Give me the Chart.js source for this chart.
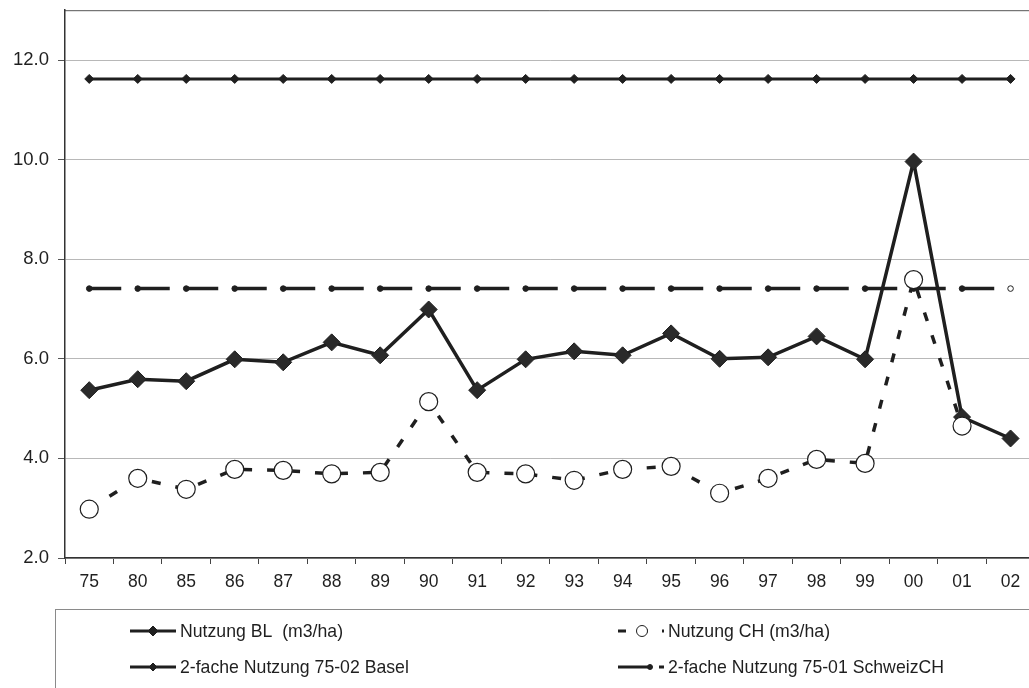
<!DOCTYPE html>
<html>
<head>
<meta charset="utf-8">
<script src="https://cdn.jsdelivr.net/npm/chart.js"></script>
<style>
  body { margin: 0; overflow: hidden; background: #fff; }
  #wrap { width: 1029px; height: 688px; overflow: hidden; }
  canvas { display: block; }
</style>
</head>
<body>
<div id="wrap"><canvas id="line-chart" width="1045" height="688"></canvas></div>
<script>
const years = ['75','80','85','86','87','88','89','90','91','92','93','94','95','96','97','98','99','00','01','02'];

const nutzungBL = [5.37, 5.59, 5.55, 5.99, 5.93, 6.33, 6.07, 6.99, 5.37, 5.99, 6.15, 6.07, 6.51, 6.00, 6.03, 6.45, 5.99, 9.96, 4.83, 4.40];
const nutzungCH = [2.98, 3.60, 3.38, 3.78, 3.76, 3.69, 3.72, 5.14, 3.72, 3.69, 3.56, 3.78, 3.84, 3.30, 3.60, 3.98, 3.90, 7.59, 4.65, null];
const doppeltBasel = [11.62, 11.62, 11.62, 11.62, 11.62, 11.62, 11.62, 11.62, 11.62, 11.62, 11.62, 11.62, 11.62, 11.62, 11.62, 11.62, 11.62, 11.62, 11.62, 11.62];
const doppeltCH = [7.41, 7.41, 7.41, 7.41, 7.41, 7.41, 7.41, 7.41, 7.41, 7.41, 7.41, 7.41, 7.41, 7.41, 7.41, 7.41, 7.41, 7.41, 7.41, 7.41];

const labels = ['Nutzung BL  (m3/ha)', 'Nutzung CH (m3/ha)', '2-fache Nutzung 75-02 Basel', '2-fache Nutzung 75-01 SchweizCH'];

const ink = '#1f1f1f';
const font = "'Liberation Sans', Arial, sans-serif";

const frame = {
  id: 'frame',
  beforeDraw(chart) {
    const a = chart.chartArea, ctx = chart.ctx;
    ctx.save();
    ctx.strokeStyle = '#555';
    ctx.lineWidth = 1;
    ctx.beginPath();
    ctx.moveTo(a.left, a.top + 0.5);
    ctx.lineTo(a.right, a.top + 0.5);
    ctx.lineTo(a.right, a.bottom);
    ctx.stroke();
    ctx.restore();
  }
};

function marker(ctx, style, x, y, r, fill) {
  ctx.beginPath();
  if (style === 'circle') {
    ctx.arc(x, y, r, 0, Math.PI * 2);
  } else {
    ctx.moveTo(x - r, y); ctx.lineTo(x, y - r); ctx.lineTo(x + r, y); ctx.lineTo(x, y + r);
    ctx.closePath();
  }
  ctx.setLineDash([]);
  ctx.fillStyle = fill;
  ctx.fill();
  ctx.lineWidth = 1;
  ctx.strokeStyle = ink;
  ctx.stroke();
}

const legendBox = {
  id: 'legendBox',
  afterDraw(chart) {
    const ctx = chart.ctx;
    const spots = [[130, 631], [618, 631], [130, 667], [618, 667]];
    ctx.save();
    ctx.strokeStyle = '#8a8a8a';
    ctx.lineWidth = 1;
    ctx.strokeRect(55.5, 609.5, 1100, 200);
    chart.data.datasets.forEach((ds, i) => {
      const [x, y] = spots[i];
      ctx.beginPath();
      ctx.setLineDash(i === 1 ? [8, 14] : i === 3 ? [32, 9, 5, 20] : []);
      ctx.strokeStyle = ink;
      ctx.lineWidth = 3;
      ctx.moveTo(x, y);
      ctx.lineTo(x + 46, y);
      ctx.stroke();
      if (i === 0) marker(ctx, 'rectRot', x + 23, y, 5, ink);
      if (i === 1) marker(ctx, 'circle', x + 24, y, 5.5, '#fff');
      if (i === 2) marker(ctx, 'rectRot', x + 23, y, 4, ink);
      if (i === 3) marker(ctx, 'circle', x + 32, y, 2.5, ink);
      ctx.save();
      ctx.translate(x + 50, y + 1);
      ctx.scale(0.93, 1);
      ctx.fillStyle = ink;
      ctx.font = '19px ' + font;
      ctx.textBaseline = 'middle';
      ctx.fillText(ds.label, 0, 0);
      ctx.restore();
    });
    ctx.restore();
  }
};

const datasets = [
  {
    label: labels[0], data: nutzungBL,
    borderColor: ink, borderWidth: 3.5,
    pointStyle: 'rectRot', pointRadius: 8.5, pointBackgroundColor: '#2a2a2a', pointBorderColor: ink, pointBorderWidth: 1,
    order: 1
  },
  {
    label: labels[1], data: nutzungCH,
    borderColor: ink, borderWidth: 3.5, borderDash: [9, 15],
    pointStyle: 'circle', pointRadius: 9, pointBackgroundColor: '#fff', pointBorderColor: ink, pointBorderWidth: 1.2,
    order: 0
  },
  {
    label: labels[2], data: doppeltBasel,
    borderColor: ink, borderWidth: 3,
    pointStyle: 'rectRot', pointRadius: 4.5, pointBackgroundColor: ink, pointBorderColor: ink, pointBorderWidth: 1,
    order: 2
  },
  {
    label: labels[3], data: doppeltCH,
    borderColor: ink, borderWidth: 3.5, borderDash: [32, 16.5],
    pointStyle: 'circle', pointRadius: 2.8,
    pointBackgroundColor: doppeltCH.map((v, i) => i === doppeltCH.length - 1 ? '#fff' : ink),
    pointBorderColor: ink, pointBorderWidth: 1,
    order: 3
  }
];

linedata = {
  type: 'line',
  data: { labels: years, datasets: datasets },
  options: {
    responsive: false,
    animation: false,
    events: [],
    layout: { padding: { top: 9, right: 10, left: 0, bottom: 0 } },
    plugins: { legend: { display: false }, tooltip: { enabled: false } },
    elements: { line: { tension: 0 } },
    scales: {
      x: {
        offset: true,
        afterFit: (s) => { s.height = 130; },
        grid: { offset: true, drawOnChartArea: false, tickLength: 6, color: '#444', lineWidth: 1 },
        border: { color: '#333', width: 1.5 },
        ticks: { color: ink, font: { family: font, size: 17.5 }, padding: 8, maxRotation: 0, autoSkip: false }
      },
      y: {
        min: 2, max: 13,
        afterFit: (s) => { s.width = 65; s.paddingTop = 0; s.paddingBottom = 0; },
        afterBuildTicks: (s) => { s.ticks = s.ticks.filter(t => t.value <= 12); },
        grid: { color: '#b8b8b8', lineWidth: 1, tickLength: 7, tickColor: '#555' },
        border: { color: '#333', width: 1.5 },
        ticks: { stepSize: 2, color: ink, font: { family: font, size: 18.5 }, padding: 9, callback: (v) => v.toFixed(1) }
      }
    }
  },
  plugins: [frame, legendBox]
};

new Chart(document.getElementById('line-chart'), linedata);
</script>
</body>
</html>
